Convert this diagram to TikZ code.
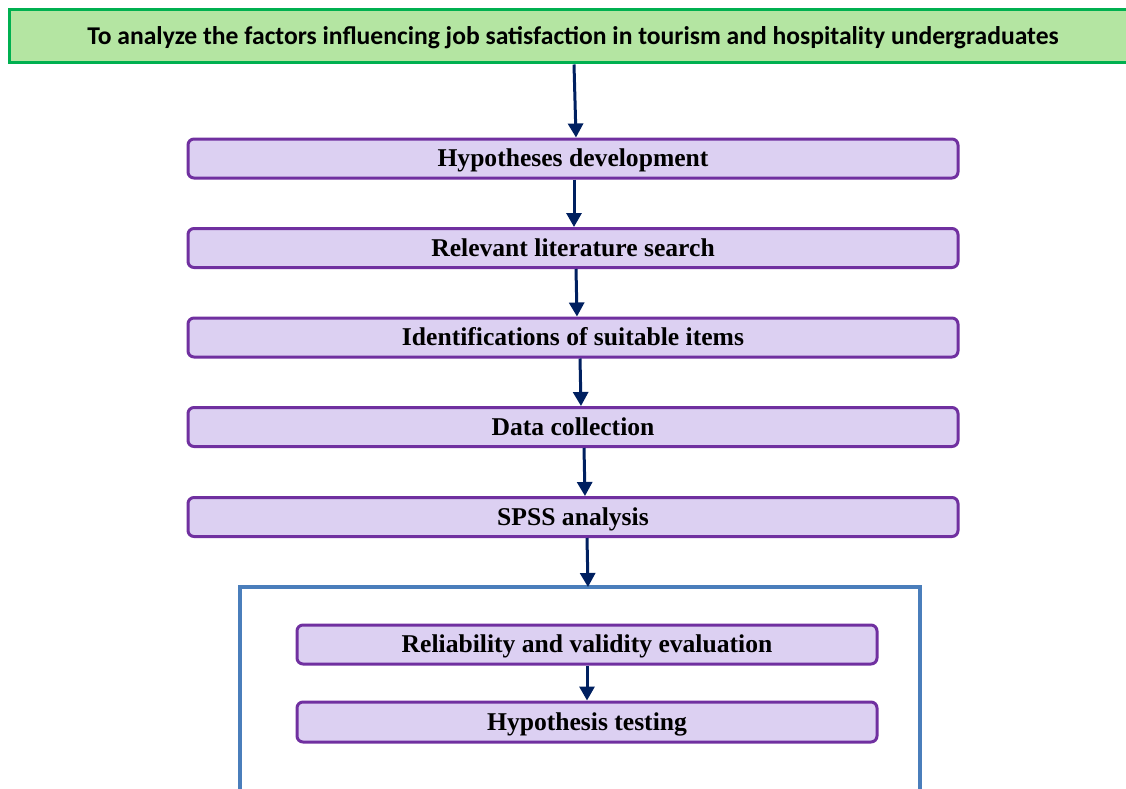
\documentclass[tikz,border=0pt]{standalone}
\usepackage{fontspec}
\setmainfont{Liberation Serif}
\newfontfamily\calib{Carlito}
\usetikzlibrary{arrows.meta}
\definecolor{gfill}{RGB}{180,229,162}
\definecolor{gline}{RGB}{0,176,80}
\definecolor{pfill}{RGB}{220,208,242}
\definecolor{pline}{RGB}{112,48,160}
\definecolor{bline}{RGB}{74,126,187}
\definecolor{navy}{RGB}{0,32,96}
\tikzset{
  topbox/.style={draw=gline, fill=gfill, line width=3pt, minimum width=1128pt, minimum height=53pt, inner sep=0pt, text height=19pt, text depth=3pt, font=\calib\bfseries\fontsize{25.6}{30}\selectfont},
  stepbox/.style={draw=pline, fill=pfill, line width=3pt, rounded corners=6pt, minimum height=39pt, inner sep=0pt, text height=19pt, text depth=3pt, font=\bfseries\fontsize{25.6}{30}\selectfont},
  flow/.style={draw=navy, line width=3pt, -{Triangle[length=14pt,width=15pt]}},
  frame/.style={draw=bline, line width=3.5pt}
}
\begin{document}
\begin{tikzpicture}[x=1pt,y=-1pt]
\useasboundingbox (0,0) rectangle (1126,789);
\clip (0,0) rectangle (1126,789);
\node[topbox] (top) at (573,36.5) {To analyze the factors influencing job satisfaction in tourism and hospitality undergraduates};
\node[stepbox, minimum width=770pt] (hyp) at (573,158.5) {Hypotheses development};
\node[stepbox, minimum width=770pt] (rel) at (573,248) {Relevant literature search};
\node[stepbox, minimum width=770pt] (ide) at (573,337.5) {Identifications of suitable items};
\node[stepbox, minimum width=770pt] (dat) at (573,427) {Data collection};
\node[stepbox, minimum width=770pt] (sps) at (573,517) {SPSS analysis};
\node[stepbox, minimum width=580pt] (rv) at (587,644.5) {Reliability and validity evaluation};
\node[stepbox, minimum width=580pt, minimum height=40pt] (ht) at (587,722) {Hypothesis testing};
\coordinate (fbl) at (240,800);
\coordinate (ftl) at (240,587);
\coordinate (ftr) at (920,587);
\coordinate (fbr) at (920,800);
\coordinate (fin) at (588,587);
\draw[frame] (fbl) -- (ftl) -- (ftr) -- (fbr);
\draw[flow] ([xshift=1pt]top.south) -- ([xshift=3pt]hyp.north);
\draw[flow] ([xshift=1pt]hyp.south) -- ([xshift=1pt]rel.north);
\draw[flow] ([xshift=3pt]rel.south) -- ([xshift=4pt]ide.north);
\draw[flow] ([xshift=7pt]ide.south) -- ([xshift=8pt]dat.north);
\draw[flow] ([xshift=11pt]dat.south) -- ([xshift=12pt]sps.north);
\draw[flow] ([xshift=14pt]sps.south) -- (fin);
\draw[flow] (rv.south) -- (ht.north);
\end{tikzpicture}
\end{document}
